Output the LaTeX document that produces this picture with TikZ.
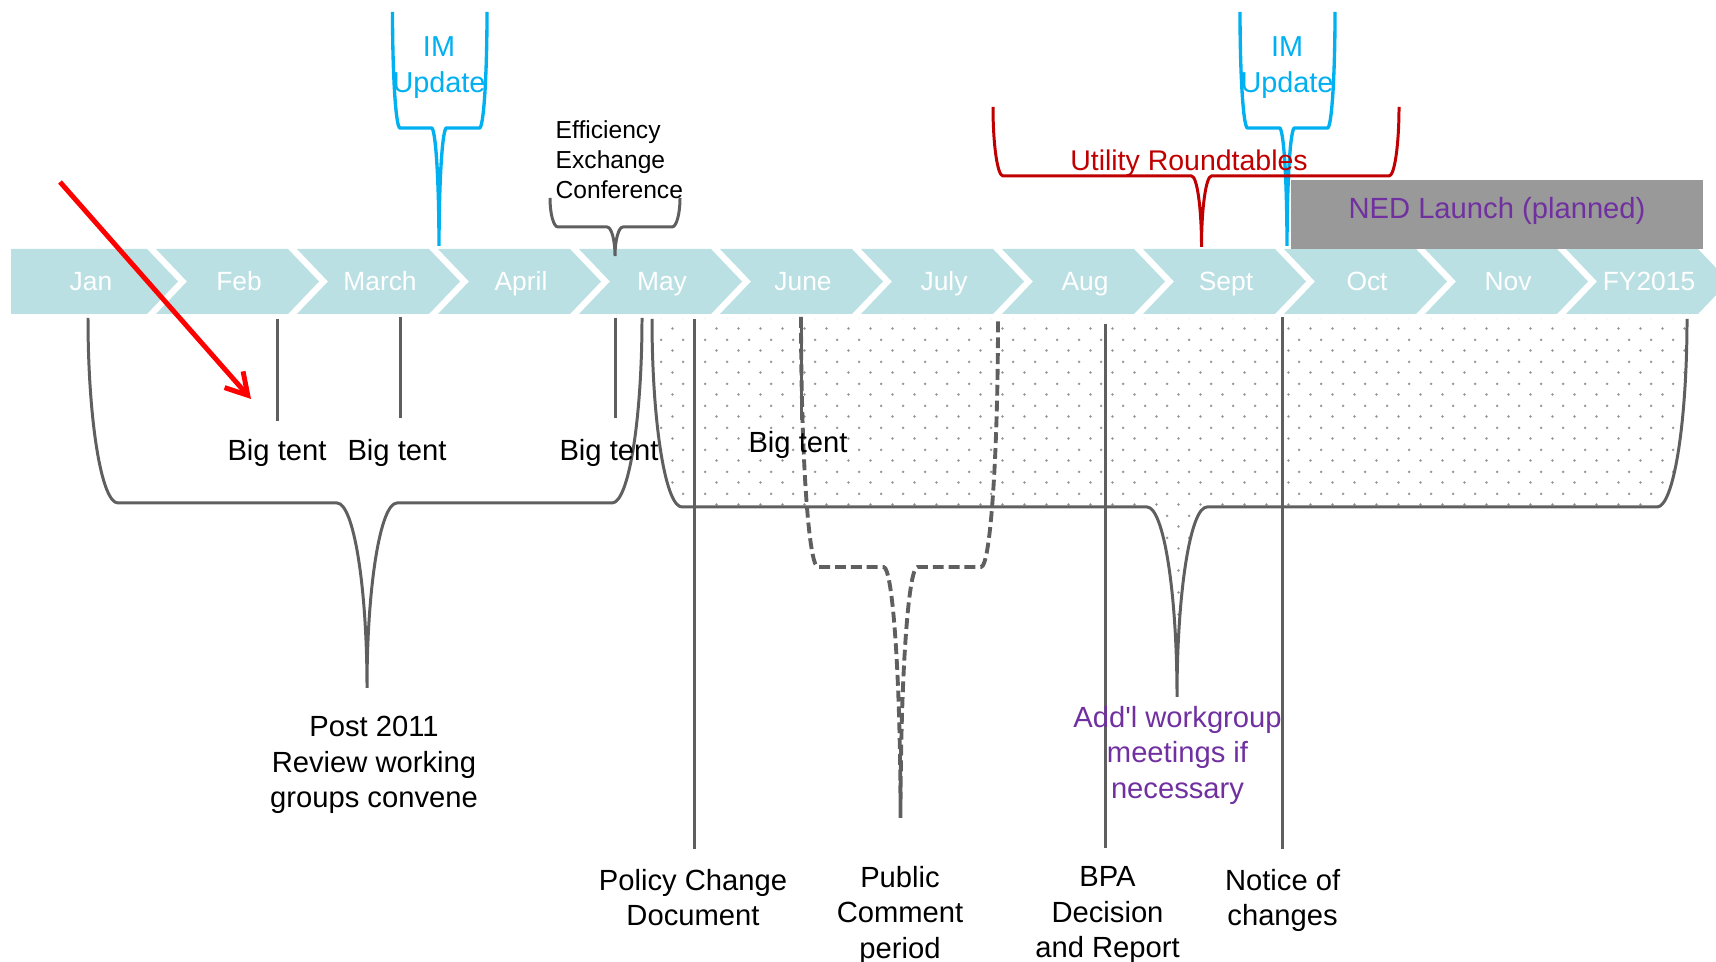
\documentclass[tikz,border=0pt]{standalone}
\usepackage{fontspec}
\setmainfont{Liberation Sans}
\newfontfamily\rawfont{Liberation Sans}
\usetikzlibrary{arrows.meta, patterns}

\definecolor{bandteal}{HTML}{BBE0E3}
\definecolor{linegray}{HTML}{5F5F5F}
\definecolor{dotgray}{HTML}{969696}
\definecolor{imblue}{HTML}{00B0F0}
\definecolor{rtred}{HTML}{C00000}
\definecolor{nedpurple}{HTML}{7030A0}
\definecolor{nedgray}{HTML}{999999}

\pgfdeclarepatternformonly{stagdots}{\pgfqpoint{-1pt}{-1pt}}{\pgfqpoint{5.17pt}{5.17pt}}{\pgfqpoint{6.17pt}{6.17pt}}{%
  \pgfpathcircle{\pgfqpoint{0pt}{0pt}}{0.4pt}%
  \pgfpathcircle{\pgfqpoint{3.085pt}{3.085pt}}{0.4pt}%
  \pgfusepath{fill}}

% left end, tip, right end, arm top, middle, tip bottom, radius
\newcommand{\bracepath}[7]{%
  (#1,#4) .. controls (#1,{#4+0.5523*(#5-#4)}) and ({#1+0.4477*#7},#5) .. ({#1+#7},#5)
  -- ({#2-#7},#5) .. controls ({#2-0.4477*#7},#5) and (#2,{#5+0.4477*(#6-#5)}) .. (#2,#6)
  .. controls (#2,{#5+0.4477*(#6-#5)}) and ({#2+0.4477*#7},#5) .. ({#2+#7},#5)
  -- ({#3-#7},#5) .. controls ({#3-0.4477*#7},#5) and (#3,{#4+0.5523*(#5-#4)}) .. (#3,#4)}

\begin{document}
\begin{tikzpicture}[x=0.01cm, y=-0.01cm,
    chev/.style={fill=bandteal},
    month/.style={font=\fontsize{7.5}{9}\selectfont, text=white, inner sep=0pt, anchor=base},
    lbl/.style={font=\fontsize{8.3}{10.1}\selectfont, align=center, inner sep=0pt},
    grayline/.style={draw=linegray, line width=0.85pt},
    dashline/.style={draw=linegray, line width=1.1pt, dash pattern=on 3.1pt off 1.4pt},
    blueline/.style={draw=imblue, line width=0.95pt},
    redline/.style={draw=rtred, line width=0.85pt},
    bigarrow/.style={draw=red, line width=1.4pt, -{Straight Barb[length=6pt, width=7pt]}}]
  \useasboundingbox (0,0) rectangle (1716,962);

  \fill [chev] (11,249) -- (147,249) -- (178,281.5) -- (147,314) -- (11,314) -- cycle;
  \node [month] (jan) at (91,291) {Jan};
  \foreach \m [count=\i] in {Feb, March, April, May, June, July, Aug, Sept, Oct, Nov, FY2015} {
    \fill [chev] ({156+141*(\i-1)},249) -- ({147+141*\i},249) -- ({178+141*\i},281.5)
      -- ({147+141*\i},314) -- ({156+141*(\i-1)},314) -- ({187+141*(\i-1)},281.5) -- cycle;
    \node [month] (m\i) at ({98+141*\i},291) {\m};
  }

  \fill [nedgray] (1290.7,180) rectangle (1703,249);
  \node [lbl, text=nedpurple, anchor=base] (ned) at (1497,219) {NED Launch (planned)};

  \fill [pattern=stagdots, pattern color=dotgray] \bracepath{652}{1177}{1687}{319}{507}{697}{30} -- cycle;

  \draw [blueline] \bracepath{392.5}{439}{487}{12}{128}{246}{7.5};
  \draw [blueline] \bracepath{1240}{1287}{1335}{12}{128}{246}{7.5};
  \draw [redline] \bracepath{993}{1201.5}{1399}{107}{176}{247}{10};
  \draw [grayline] \bracepath{550}{615}{680}{198}{227}{256}{8};
  \draw [grayline] \bracepath{88}{367}{642}{318}{503}{688}{30};
  \draw [grayline] \bracepath{652}{1177}{1687}{319}{507}{697}{30};
  \draw [dashline] \bracepath{801}{900.5}{998}{317}{567}{818}{17};

  \draw [grayline] (277,319) -- (277,421);
  \draw [grayline] (400.5,317) -- (400.5,418);
  \draw [grayline] (615,318) -- (615,418);
  \draw [grayline] (801,317) -- (801,420);
  \draw [grayline] (694,319) -- (694,849);
  \draw [grayline] (1105,324) -- (1105,848);
  \draw [grayline] (1282.6,317) -- (1282.6,849);

  \node [lbl, font=\fontsize{8.2}{10.2}\selectfont, text=imblue] (im1) at (439,68) {IM\\Update};
  \node [lbl, font=\fontsize{8.2}{10.2}\selectfont, text=imblue] (im2) at (1287,68) {IM\\Update};
  \node [lbl, font=\fontsize{7}{8.53}\selectfont, align=left, anchor=west] (eec) at (555,160) {Efficiency\\Exchange\\Conference};
  \node [lbl, font=\fontsize{8.1}{10}\selectfont, text=rtred, anchor=base] (urt) at (1189,170.4) {Utility Roundtables};

  \node [lbl, anchor=base] (bt1) at (277,460.5) {Big tent};
  \node [lbl, anchor=base] (bt2) at (397,460.5) {Big tent};
  \node [lbl, anchor=base] (bt3) at (609,460.5) {Big tent};
  \node [lbl, anchor=base] (bt4) at (798,452.5) {Big tent};

  \node [lbl] (post) at (374,765) {Post 2011\\Review working\\groups convene};
  \node [lbl] (pcd) at (693,897.5) {Policy Change\\Document};
  \node [lbl] (pcp) at (900,915) {Public\\Comment\\period};
  \node [lbl] (bpa) at (1107.5,915) {BPA\\Decision\\and Report};
  \node [lbl] (noc) at (1282.6,900.5) {Notice of\\changes};
  \node [lbl, text=nedpurple] (addl) at (1177.5,755) {Add{\rawfont '}l workgroup\\meetings if\\necessary};

  \draw [bigarrow] (60,182) -- (251,399);
\end{tikzpicture}
\end{document}
